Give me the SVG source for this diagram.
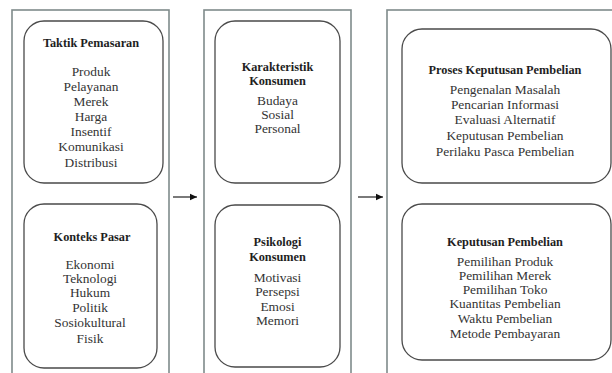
<svg xmlns="http://www.w3.org/2000/svg" width="612" height="373" viewBox="0 0 612 373">
<defs>
<style>
.outer{fill:none;stroke:#7f8b8b;stroke-width:1.6}
.inner{fill:#fff;stroke:#4a4a4a;stroke-width:1.3}
.t{font-family:"Liberation Serif","Times New Roman",serif;font-weight:bold;font-size:12.3px;fill:#1e1e1e;text-anchor:middle}
.i{font-family:"Liberation Serif","Times New Roman",serif;font-size:13.4px;fill:#333;text-anchor:middle}
.conn{stroke:#222;stroke-width:1.2;fill:none}
</style>
<marker id="ah" markerWidth="8" markerHeight="8" refX="7" refY="4" orient="auto" markerUnits="userSpaceOnUse">
<path d="M0,0.8 L7,4 L0,7.2 Z" fill="#111"/>
</marker>
</defs>
<rect width="612" height="373" fill="#fff"/>
<g id="col1">
<rect class="outer" x="12" y="10" width="157" height="380"/>
</g>
<g id="col2">
<rect class="outer" x="204" y="10" width="147" height="380"/>
</g>
<g id="col3">
<rect class="outer" x="387" y="10" width="240" height="380"/>
</g>
<g id="taktik">
<rect class="inner" x="24" y="21" width="139" height="162" rx="20"/>
<text class="t" x="91" y="47">Taktik Pemasaran</text>
<text class="i" x="91" y="76">Produk</text>
<text class="i" x="91" y="91">Pelayanan</text>
<text class="i" x="91" y="106">Merek</text>
<text class="i" x="91" y="121">Harga</text>
<text class="i" x="91" y="136">Insentif</text>
<text class="i" x="91" y="151">Komunikasi</text>
<text class="i" x="91" y="167">Distribusi</text>
</g>
<g id="konteks">
<rect class="inner" x="24" y="204" width="133" height="164" rx="20"/>
<text class="t" x="92" y="241">Konteks Pasar</text>
<text class="i" x="90" y="269">Ekonomi</text>
<text class="i" x="90" y="283">Teknologi</text>
<text class="i" x="90" y="297">Hukum</text>
<text class="i" x="90" y="312">Politik</text>
<text class="i" x="90" y="327">Sosiokultural</text>
<text class="i" x="90" y="343">Fisik</text>
</g>
<g id="karakteristik">
<rect class="inner" x="215" y="21" width="125" height="162" rx="20"/>
<text class="t" x="277.5" y="71">Karakteristik</text>
<text class="t" x="277.5" y="85">Konsumen</text>
<text class="i" x="277.5" y="105">Budaya</text>
<text class="i" x="277.5" y="119">Sosial</text>
<text class="i" x="277.5" y="133">Personal</text>
</g>
<g id="psikologi">
<rect class="inner" x="215" y="205" width="125" height="162" rx="20"/>
<text class="t" x="277.5" y="246">Psikologi</text>
<text class="t" x="277.5" y="261">Konsumen</text>
<text class="i" x="277.5" y="282">Motivasi</text>
<text class="i" x="277.5" y="296">Persepsi</text>
<text class="i" x="277.5" y="311">Emosi</text>
<text class="i" x="277.5" y="325">Memori</text>
</g>
<g id="proses">
<rect class="inner" x="402" y="29" width="209" height="154" rx="20"/>
<text class="t" x="505" y="74">Proses Keputusan Pembelian</text>
<text class="i" x="505" y="94">Pengenalan Masalah</text>
<text class="i" x="505" y="109">Pencarian Informasi</text>
<text class="i" x="505" y="124">Evaluasi Alternatif</text>
<text class="i" x="505" y="140">Keputusan Pembelian</text>
<text class="i" x="505" y="156">Perilaku Pasca Pembelian</text>
</g>
<g id="keputusan">
<rect class="inner" x="402" y="204" width="209" height="156" rx="20"/>
<text class="t" x="505" y="246">Keputusan Pembelian</text>
<text class="i" x="505" y="266">Pemilihan Produk</text>
<text class="i" x="505" y="280">Pemilihan Merek</text>
<text class="i" x="505" y="294">Pemilihan Toko</text>
<text class="i" x="505" y="308">Kuantitas Pembelian</text>
<text class="i" x="505" y="323">Waktu Pembelian</text>
<text class="i" x="505" y="338">Metode Pembayaran</text>
</g>
<g id="connectors">
<line class="conn" x1="173" y1="197" x2="197" y2="197" marker-end="url(#ah)"/>
<line class="conn" x1="358" y1="197" x2="383" y2="197" marker-end="url(#ah)"/>
</g>
</svg>
